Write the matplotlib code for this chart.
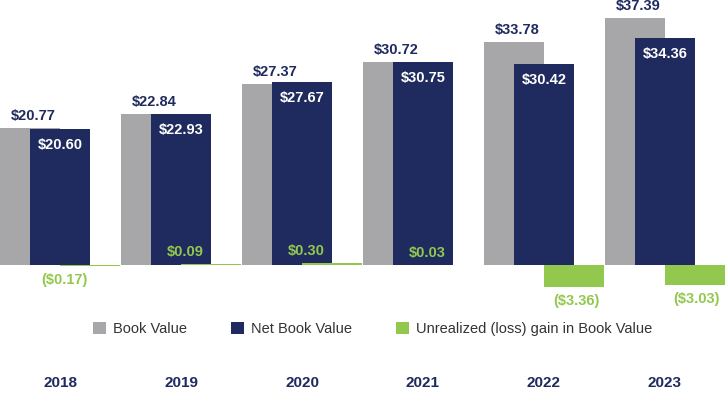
import matplotlib
matplotlib.use("Agg")
import matplotlib.pyplot as plt
import numpy as np

years = ["2018", "2019", "2020", "2021", "2022", "2023"]
book_value = [20.77, 22.84, 27.37, 30.72, 33.78, 37.39]
net_book_value = [20.60, 22.93, 27.67, 30.75, 30.42, 34.36]
unrealized = [-0.17, 0.09, 0.30, 0.03, -3.36, -3.03]
series_names = ["Book Value", "Net Book Value", "Unrealized (loss) gain in Book Value"]

GRAY = "#a7a6a8"
NAVY = "#1f2a5e"
GREEN = "#92c84e"

plt.rcParams['font.family'] = ['Liberation Sans', 'DejaVu Sans']

fig = plt.figure(figsize=(7.25, 3.96), dpi=100)
ax = fig.add_axes([0, 0, 1, 1])
ax.set_xlim(-0.496, 5.496)
ax.set_ylim(-19.85, 40.15)
ax.axis("off")

x = np.arange(len(years))
w = 0.496
off = 0.248

ax.bar(x - off, book_value, w, color=GRAY, label=series_names[0])
ax.bar(x, net_book_value, w, color=NAVY, label=series_names[1])
ax.bar(x + off, unrealized, w, color=GREEN, label=series_names[2])

def fmt(v):
    return f"(${abs(v):.2f})" if v < 0 else f"${v:.2f}"

lab_fs = 10.5
for i in range(len(years)):
    ax.annotate(fmt(book_value[i]), (x[i] - off, book_value[i]), xytext=(3, 12),
                textcoords="offset pixels", ha="center", va="center",
                color=NAVY, fontsize=lab_fs, fontweight="bold")
    ax.annotate(fmt(net_book_value[i]), (x[i], net_book_value[i]), xytext=(0, -16),
                textcoords="offset pixels", ha="center", va="center",
                color="white", fontsize=lab_fs, fontweight="bold")
    u = unrealized[i]
    small = abs(u) < 1
    dx = -26 if small else 2
    dy = 12 if u >= 0 else -14
    ax.annotate(fmt(u), (x[i] + off, u), xytext=(dx, dy),
                textcoords="offset pixels", ha="center", va="center",
                color=GREEN, fontsize=lab_fs, fontweight="bold")

for i, yr in enumerate(years):
    ax.text(x[i], 1 - 383 / 396, yr, transform=ax.get_xaxis_transform(), ha="center", va="center",
            color=NAVY, fontsize=11, fontweight="bold")

leg = ax.legend(loc="center", bbox_to_anchor=(0.514, 1 - 329 / 396), ncol=3, frameon=False,
                fontsize=10.5, handlelength=0.9, handleheight=0.9, handletextpad=0.5,
                columnspacing=3.0, labelcolor="#333333")

fig.savefig("out.png", dpi=100)
